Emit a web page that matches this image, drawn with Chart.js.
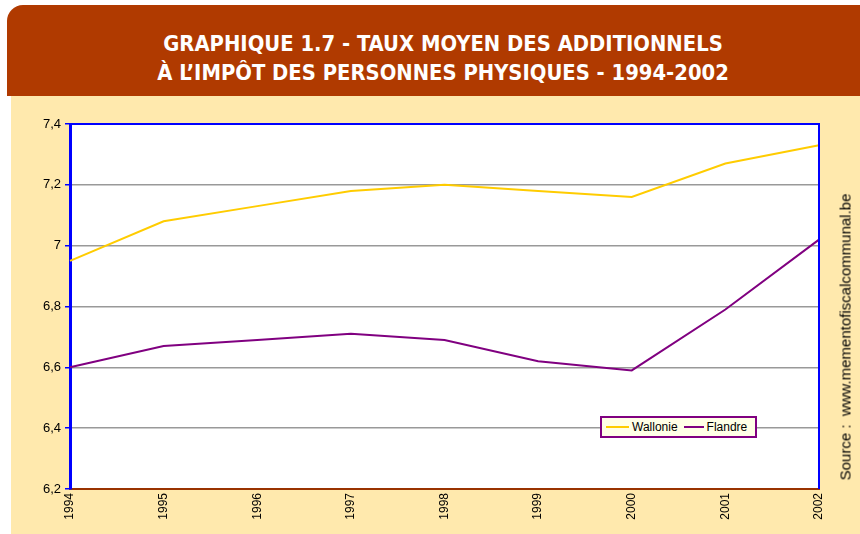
<!DOCTYPE html>
<html><head><meta charset="utf-8">
<script src="https://cdn.jsdelivr.net/npm/chart.js@4.4.0/dist/chart.umd.min.js"></script>
<style>
html,body{margin:0;padding:0;background:#fff;}
#wrap{position:relative;width:860px;height:534px;overflow:hidden;font-family:"Liberation Sans",Arial,sans-serif;}
#head{position:absolute;left:7px;top:5px;width:853px;height:91px;background:#B03A00;border-top-left-radius:16px;}
#title{position:absolute;left:443px;top:29px;transform:translateX(-50%) scaleX(0.99);white-space:nowrap;text-align:center;color:#fff;font-family:"DejaVu Sans Condensed","Liberation Sans",sans-serif;font-weight:bold;font-size:22px;line-height:29px;}
#body{position:absolute;left:11px;top:96px;width:849px;height:438px;background:#FFE9AD;}
#cv{position:absolute;left:11px;top:96px;}
#legend{position:absolute;left:600px;top:416px;width:153px;height:18px;background:#FFFFE6;border:2px solid #800080;display:flex;align-items:center;font-size:12px;color:#000;}
#legend .ln{display:inline-block;height:2px;}
#source{position:absolute;left:845px;top:337px;transform:translate(-50%,-50%) rotate(-90deg);white-space:nowrap;font-size:15px;color:#000;}
</style></head>
<body><div id="wrap">
<div id="head"></div>
<div id="body"></div>
<div id="title">GRAPHIQUE 1.7 - TAUX MOYEN DES ADDITIONNELS<br>À L’IMPÔT DES PERSONNES PHYSIQUES - 1994-2002</div>
<canvas id="cv" width="849" height="438"></canvas>
<div id="legend"></div>
<div id="source">Source : &nbsp;www.mementofiscalcommunal.be</div>
</div>
<script>
const years = ["1994","1995","1996","1997","1998","1999","2000","2001","2002"];
const wallonie = [6.95, 7.08, 7.13, 7.18, 7.20, 7.18, 7.16, 7.27, 7.33];
const flandre = [6.60, 6.67, 6.69, 6.71, 6.69, 6.62, 6.59, 6.79, 7.02];
const seriesNames = ["Wallonie", "Flandre"];
const seriesColors = ["#FFCC00", "#800080"];

const frame = {
  id: 'frame',
  beforeDraw(chart) {
    const {ctx, chartArea: a} = chart;
    ctx.save();
    ctx.fillStyle = '#FFFFFF';
    ctx.fillRect(a.left, a.top, a.right - a.left, a.bottom - a.top);
    ctx.restore();
  },
  afterDraw(chart) {
    const {ctx, chartArea: a} = chart;
    ctx.save();
    ctx.strokeStyle = '#0000FF';
    ctx.lineWidth = 2;
    ctx.beginPath();
    ctx.moveTo(a.left, a.top); ctx.lineTo(a.right, a.top); ctx.lineTo(a.right, a.bottom);
    ctx.stroke();
    ctx.restore();
  }
};

const chart = new Chart(document.getElementById('cv'), {
  type: 'line',
  data: {
    labels: years,
    datasets: [
      {label: seriesNames[0], data: wallonie, borderColor: seriesColors[0], borderWidth: 2, pointRadius: 0, tension: 0, fill: false},
      {label: seriesNames[1], data: flandre, borderColor: seriesColors[1], borderWidth: 2, pointRadius: 0, tension: 0, fill: false}
    ]
  },
  options: {
    responsive: false, animation: false,
    layout: {padding: {top: 28, right: 41, left: 0, bottom: 0}},
    plugins: {legend: {display: false}, tooltip: {enabled: false}},
    scales: {
      x: {
        offset: false,
        grid: {display: false, drawTicks: false},
        border: {display: true, color: '#993300', width: 2},
        ticks: {maxRotation: 90, minRotation: 90, color: '#000', font: {family: 'Liberation Sans', size: 12}, padding: 4, autoSkip: false},
        afterFit(s) { s.height = 45; }
      },
      y: {
        min: 6.2, max: 7.4,
        grid: {color: '#999999', lineWidth: 1.5, tickColor: '#0000FF', tickLength: 5, drawOnChartArea: true},
        border: {display: true, color: '#0000FF', width: 3},
        ticks: {stepSize: 0.2, color: '#000', font: {family: 'Liberation Sans', size: 13}, padding: 4,
          callback: v => (Math.round(v * 10) / 10).toString().replace('.', ',')},
        afterFit(s) { s.width = 59; }
      }
    }
  },
  plugins: [frame]
});

const lg = document.getElementById('legend');
seriesNames.forEach((n, i) => {
  const l = document.createElement('span');
  l.className = 'ln';
  l.style.background = seriesColors[i];
  l.style.width = i === 0 ? '23px' : '20px';
  l.style.marginLeft = i === 0 ? '4px' : '6px';
  const t = document.createElement('span');
  t.textContent = n;
  t.style.marginLeft = '3px';
  lg.appendChild(l); lg.appendChild(t);
});
</script>
</body></html>
